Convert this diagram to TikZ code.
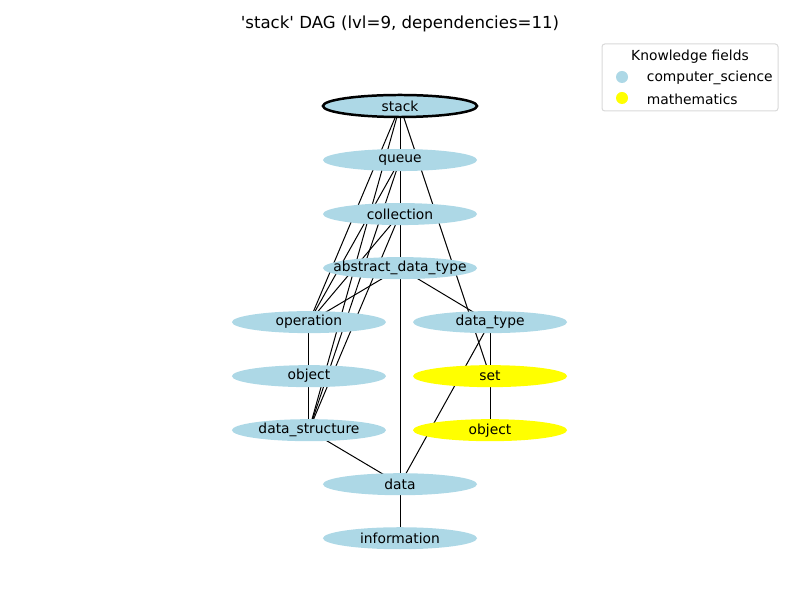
\documentclass[tikz,border=0pt]{standalone}
\usepackage{fontspec}
\setmainfont{DejaVu Sans}[Ligatures=TeXOff]
\usetikzlibrary{positioning, shapes.geometric, backgrounds}
\definecolor{csblue}{RGB}{173,216,230}
\definecolor{mathyellow}{RGB}{255,255,0}

\begin{document}
\begin{tikzpicture}[x=0.01in,y=-0.01in,node distance=0.54in,on grid,
    concept/.style={ellipse,fill=csblue,minimum width=1.54in,minimum height=0.22in,inner sep=0pt,font=\fontsize{10}{12}\selectfont},
    mathconcept/.style={concept,fill=mathyellow},
    dep/.style={line width=0.72pt}]
  \useasboundingbox (0,0) rectangle (800,600);
  \node (title) at (400,24) {\fontsize{12}{14}\selectfont 'stack' DAG (lvl=9, dependencies=11)};

  \node[concept, draw=black, line width=1.8pt] (stack) at (400,106) {stack};
  \node[concept] (queue) [below=of stack] {queue};
  \node[concept] (collection) [below=of queue] {collection};
  \node[concept] (adt) [below=of collection] {\makebox[0pt]{abstract\_data\_type}};
  \node[concept] (operation) [below left=0.54in and 0.91in of adt] {operation};
  \node[concept] (datatype) [below right=0.54in and 0.9in of adt] {data\_type};
  \node[concept] (objectcs) [below=of operation] {object};
  \node[mathconcept] (set) [below=of datatype] {set};
  \node[concept] (datastructure) [below=of objectcs] {data\_structure};
  \node[mathconcept] (objectmath) [below=of set] {object};
  \node[concept] (data) [below=of adt, yshift=-1.62in] {data};
  \node[concept] (information) [below=of data] {information};

  \begin{scope}[on background layer]
    \path[dep]
      (stack.center) edge (queue.center)
                     edge (operation.center)
                     edge (datastructure.center)
                     edge (set.center)
      (queue.center) edge (collection.center)
                     edge (operation.center)
                     edge (datastructure.center)
      (collection.center) edge (adt.center)
                     edge (operation.center)
                     edge (datastructure.center)
      (adt.center) edge (operation.center)
                   edge (datatype.center)
                   edge (data.center)
      (operation.center) edge (objectcs.center)
      (objectcs.center) edge (datastructure.center)
      (datastructure.center) edge (data.center)
      (datatype.center) edge (set.center)
                        edge (data.center)
      (set.center) edge (objectmath.center)
      (data.center) edge (information.center);
  \end{scope}

  % legend
  \draw[gray!30, rounded corners=2pt, line width=0.72pt, fill=white] (602,44) rectangle (778,111);
  \node (legendtitle) at (690,57) {\fontsize{10}{12}\selectfont Knowledge fields};
  \fill[csblue] (622,77) circle (0.06in);
  \node[anchor=west] (legendcs) at (642,78) {\fontsize{10}{12}\selectfont computer\_science};
  \fill[mathyellow] (622,98) circle (0.06in);
  \node[anchor=west] (legendmath) at (642,99) {\fontsize{10}{12}\selectfont mathematics};
\end{tikzpicture}
\end{document}
